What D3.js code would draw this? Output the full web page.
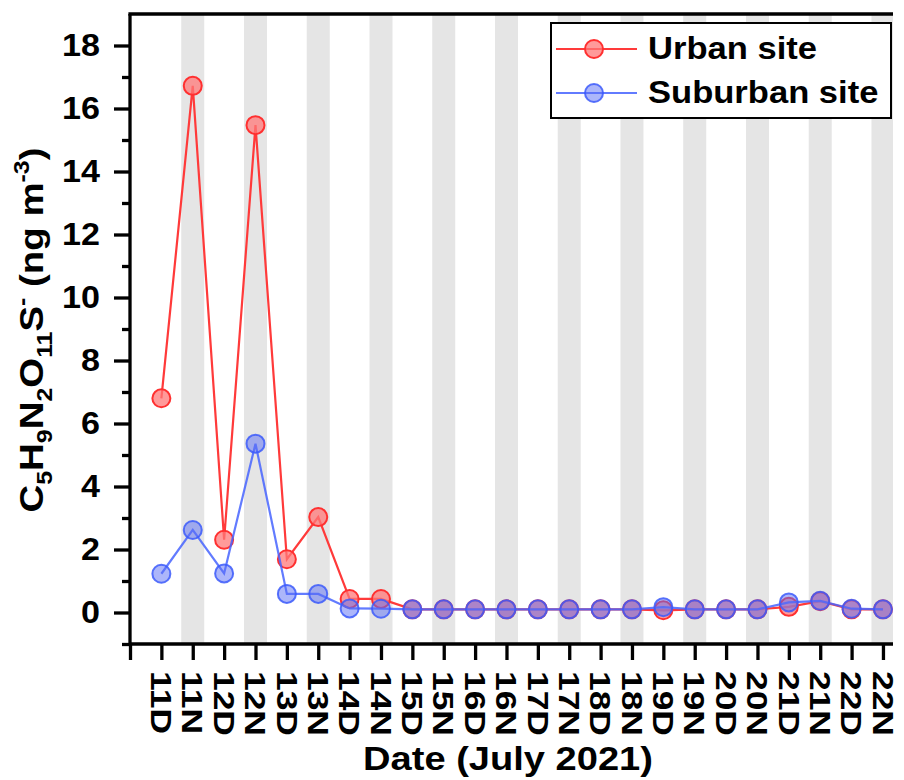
<!DOCTYPE html>
<html>
<head>
<meta charset="utf-8">
<script src="https://cdn.jsdelivr.net/npm/d3@7"></script>
<style>
  body { margin: 0; background: #fff; }
  text { font-family: "Liberation Sans", Arial, sans-serif; font-weight: bold; fill: #000; }
</style>
</head>
<body>
<div id="chart-area"></div>
<script>
const W = 904
const H = 780
const MARGIN = { LEFT: 130, RIGHT: 11, TOP: 14, BOTTOM: 136 }

// data
const dates = ["11D", "11N", "12D", "12N", "13D", "13N", "14D", "14N", "15D", "15N", "16D", "16N",
	"17D", "17N", "18D", "18N", "19D", "19N", "20D", "20N", "21D", "21N", "22D", "22N"]
const urban = [6.8, 16.72, 2.31, 15.47, 1.69, 3.03, 0.43, 0.43, 0.1, 0.1, 0.1, 0.1,
	0.1, 0.1, 0.1, 0.1, 0.07, 0.1, 0.1, 0.1, 0.18, 0.36, 0.1, 0.1]
const suburban = [1.23, 2.62, 1.24, 5.36, 0.59, 0.59, 0.13, 0.12, 0.1, 0.1, 0.1, 0.1,
	0.1, 0.1, 0.1, 0.1, 0.17, 0.1, 0.1, 0.1, 0.32, 0.37, 0.12, 0.1]
const yTicks = [0, 2, 4, 6, 8, 10, 12, 14, 16, 18]
const yMinor = [-1, 1, 3, 5, 7, 9, 11, 13, 15, 17]

// the original font is a bit wider than Liberation Sans, so stretch text horizontally
const WIDEN = 1.1

const svg = d3.select("#chart-area").append("svg")
	.attr("width", W)
	.attr("height", H)

const x = d3.scaleLinear().domain([0, 24.32]).range([MARGIN.LEFT, W - MARGIN.RIGHT])
const y = d3.scaleLinear().domain([-1, 19]).range([H - MARGIN.BOTTOM, MARGIN.TOP])

// grey bands behind the night samples
svg.append("g").selectAll("rect")
	.data(dates.map((d, i) => ({ d, i: i + 1 })).filter(e => e.d.endsWith("N")))
	.enter().append("rect")
	.attr("x", e => x(e.i) - 11.5)
	.attr("width", e => Math.min(23, x.range()[1] - (x(e.i) - 11.5)))
	.attr("y", y(19))
	.attr("height", y(-1) - y(19))
	.attr("fill", "#e5e5e5")

// axes
const xAxis = d3.axisBottom(x)
	.tickValues(d3.range(0, 25))
	.tickSize(16)
	.tickFormat("")
const gx = svg.append("g")
	.attr("transform", `translate(0,${y(-1)})`)
	.call(xAxis)
gx.select(".domain").attr("d", `M${x.range()[0]},0H${x.range()[1]}`)

gx.selectAll(".tick")
	.filter(d => d >= 1)
	.append("text")
	.attr("transform", "translate(0,27) rotate(90) scale(1.18,1)")
	.attr("dy", "0.36em")
	.attr("text-anchor", "start")
	.style("font-size", "30px")
	.text(d => dates[d - 1])

const gy = svg.append("g")
	.attr("transform", `translate(${x.range()[0]},0)`)
	.call(d3.axisLeft(y).tickValues(yTicks).tickSize(16).tickPadding(14))
gy.select(".domain").attr("d", `M0,${y(19)}V${y(-1)}`)
gy.selectAll(".tick text")
	.style("font-size", "31px")
	.attr("x", -30 / WIDEN)
	.attr("transform", `scale(${WIDEN},1)`)

svg.append("g")
	.attr("transform", `translate(${x.range()[0]},0)`)
	.call(d3.axisLeft(y).tickValues(yMinor).tickSize(8).tickFormat(""))
	.select(".domain").remove()

svg.selectAll(".domain, .tick line")
	.attr("stroke", "#000")
	.attr("stroke-width", 3.3)

// top frame line
svg.append("line")
	.attr("x1", x.range()[0] - 1.6)
	.attr("x2", x.range()[1])
	.attr("y1", y(19))
	.attr("y2", y(19))
	.attr("stroke", "#000")
	.attr("stroke-width", 3.3)

// series
const SERIES = [
	{ name: "Urban site", values: urban, line: "#ff3a3a", fill: "rgba(255,120,120,0.75)", stroke: "#ff3030" },
	{ name: "Suburban site", values: suburban, line: "rgba(70,100,255,0.85)", fill: "rgba(90,110,245,0.5)", stroke: "rgba(60,90,250,0.85)" }
]

const line = d3.line().x((v, i) => x(i + 1)).y(v => y(v))

SERIES.forEach(s => {
	const g = svg.append("g")
	g.append("path")
		.attr("d", line(s.values))
		.attr("fill", "none")
		.attr("stroke", s.line)
		.attr("stroke-width", 2.2)
	g.selectAll("circle").data(s.values).enter().append("circle")
		.attr("cx", (v, i) => x(i + 1))
		.attr("cy", v => y(v))
		.attr("r", 9)
		.attr("fill", s.fill)
		.attr("stroke", s.stroke)
		.attr("stroke-width", 2)
})

// axis titles
svg.append("text")
	.attr("transform", "translate(508,770) scale(1.12,1)")
	.attr("text-anchor", "middle")
	.style("font-size", "34px")
	.text("Date (July 2021)")

const yTitle = svg.append("text")
	.attr("transform", "translate(43,330) rotate(-90) scale(1.13,1)")
	.attr("text-anchor", "middle")
	.style("font-size", "34px")
// [text, baseline offset] : + is subscript, - is superscript
const parts = [["C", 0], ["5", 9], ["H", 0], ["9", 9], ["N", 0], ["2", 9], ["O", 0], ["11", 9], ["S", 0], ["-", -14], [" (ng m", 0], ["-3", -14], [")", 0]]
let prevOff = 0
parts.forEach(p => {
	yTitle.append("tspan")
		.attr("dy", p[1] - prevOff)
		.style("font-size", p[1] === 0 ? "34px" : "22px")
		.text(p[0])
	prevOff = p[1]
})

// legend
const legend = svg.append("g")
legend.append("rect")
	.attr("x", 551).attr("y", 23)
	.attr("width", 340).attr("height", 95)
	.attr("fill", "#fff")
	.attr("stroke", "#000")
	.attr("stroke-width", 2)

SERIES.forEach((s, i) => {
	const cy = 49 + i * 44
	legend.append("line")
		.attr("x1", 556).attr("x2", 637)
		.attr("y1", cy).attr("y2", cy)
		.attr("stroke", s.line)
		.attr("stroke-width", 2.2)
	legend.append("circle")
		.attr("cx", 594).attr("cy", cy).attr("r", 9)
		.attr("fill", s.fill)
		.attr("stroke", s.stroke)
		.attr("stroke-width", 2)
	legend.append("text")
		.attr("transform", `translate(648,${cy + 10}) scale(1.08,1)`)
		.style("font-size", "32px")
		.text(s.name)
})
</script>
</body>
</html>
